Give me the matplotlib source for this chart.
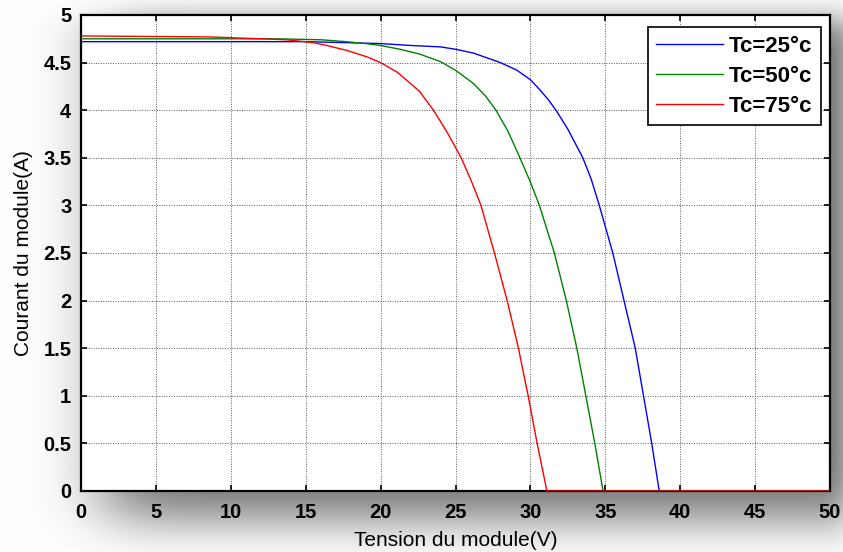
import math
import numpy as np
import matplotlib
matplotlib.use("Agg")
import matplotlib.pyplot as plt

plt.rcParams['font.family'] = ['Liberation Sans', 'DejaVu Sans']

# ---- data ----
v_25 = [0, 15, 17.5, 20, 22, 24, 25, 26.2, 28, 29.1, 30, 30.6, 31.2, 31.75, 32.5,
        33.5, 34.05, 34.6, 35.5, 36.25, 37.0, 37.55, 38.1, 38.6, 50]
i_25 = [4.72, 4.72, 4.71, 4.70, 4.68, 4.665, 4.64, 4.60, 4.50, 4.42, 4.32, 4.22,
        4.11, 3.99, 3.80, 3.5, 3.28, 3.0, 2.5, 2.0, 1.5, 1.0, 0.5, 0, 0]

v_50 = [0, 13, 16, 17.7, 19, 20, 21.3, 22.6, 24.0, 25, 26.2, 27.0, 27.7, 28.5,
        29.3, 30.0, 30.6, 31.6, 32.4, 33.1, 33.7, 34.3, 34.85, 50]
i_50 = [4.75, 4.75, 4.74, 4.72, 4.70, 4.68, 4.64, 4.59, 4.51, 4.42, 4.28, 4.15,
        4.0, 3.78, 3.5, 3.245, 3.0, 2.5, 2.0, 1.5, 1.0, 0.5, 0, 0]

v_75 = [0, 8.5, 12, 13.7, 15.5, 16.4, 17.7, 19.1, 20, 21.1, 22, 22.6, 23.53, 24.49,
        25.38, 26.1, 26.7, 27.6, 28.45, 29.2, 29.85, 30.45, 31.1, 50]
i_75 = [4.78, 4.77, 4.75, 4.74, 4.71, 4.68, 4.63, 4.56, 4.50, 4.40, 4.28, 4.197,
        4.0, 3.755, 3.5, 3.24, 3.0, 2.5, 2.0, 1.5, 1.0, 0.5, 0, 0]

labels = ['Tc=25°c', 'Tc=50°c', 'Tc=75°c']
colors = ['#0000ff', '#008000', '#ff0000']

x_ticks = list(range(0, 51, 5))
y_ticks = [0, 0.5, 1, 1.5, 2, 2.5, 3, 3.5, 4, 4.5, 5]
y_tick_labels = ['0', '0.5', '1', '1.5', '2', '2.5', '3', '3.5', '4', '4.5', '5']

# ---- figure ----
W, H = 843, 552
fig = plt.figure(figsize=(W / 100, H / 100), dpi=100)
fig.patch.set_facecolor('white')

# drop-shadow background (decoration)
erf = np.vectorize(math.erf)
def phi(z):
    return 0.5 * (1 + erf(z / math.sqrt(2)))
xs = np.arange(W) + 0.5
ys = np.arange(H) + 0.5
fx = phi((xs - 105) / 35) * (1 - phi((xs - 850) / 14))
fy = phi((ys - 20) / 15) * (1 - phi((ys - 518) / 24))
shade = 1 - 0.55 * np.outer(fy, fx)
img = np.dstack([shade, shade, shade])
bg = fig.add_axes([0, 0, 1, 1], zorder=0)
bg.imshow(img, extent=[0, 1, 0, 1], aspect='auto', interpolation='bilinear')
bg.axis('off')

ax = fig.add_axes([81 / W, 1 - 491 / H, (830 - 81) / W, (491 - 15) / H], zorder=1)
ax.set_facecolor('white')

for v, i, c, lab in zip([v_25, v_50, v_75], [i_25, i_50, i_75], colors, labels):
    ax.plot(v, i, color=c, lw=1.0, label=lab, zorder=3)

ax.set_xlim(0, 50)
ax.set_ylim(0, 5)
ax.set_xticks(x_ticks)
ax.set_yticks(y_ticks)
ax.set_yticklabels(y_tick_labels)
ax.grid(True, color='0.35', linestyle=(0, (1, 1.5)), lw=0.7)
ax.tick_params(direction='in', length=4, width=1.2, top=True, right=True,
               labelsize=14.5)
ax.tick_params(axis='x', pad=9)
ax.tick_params(axis='y', pad=7)
for lab in ax.get_xticklabels() + ax.get_yticklabels():
    lab.set_fontweight('bold')
for s in ax.spines.values():
    s.set_linewidth(1.6)

ax.set_xlabel('Tension du module(V)', fontsize=15, labelpad=6)
ax.set_ylabel('Courant du module(A)', fontsize=15, labelpad=7)

leg = ax.legend(loc='upper right', bbox_to_anchor=(0.988, 0.975),
                borderaxespad=0, fancybox=False, framealpha=1,
                edgecolor='black', handlelength=3.0, handletextpad=0.25,
                labelspacing=0.4, borderpad=0.4,
                prop={'weight': 'bold', 'size': 16})
leg.get_frame().set_linewidth(1.2)
leg.set_zorder(5)

fig.savefig('out.png', dpi=100)
